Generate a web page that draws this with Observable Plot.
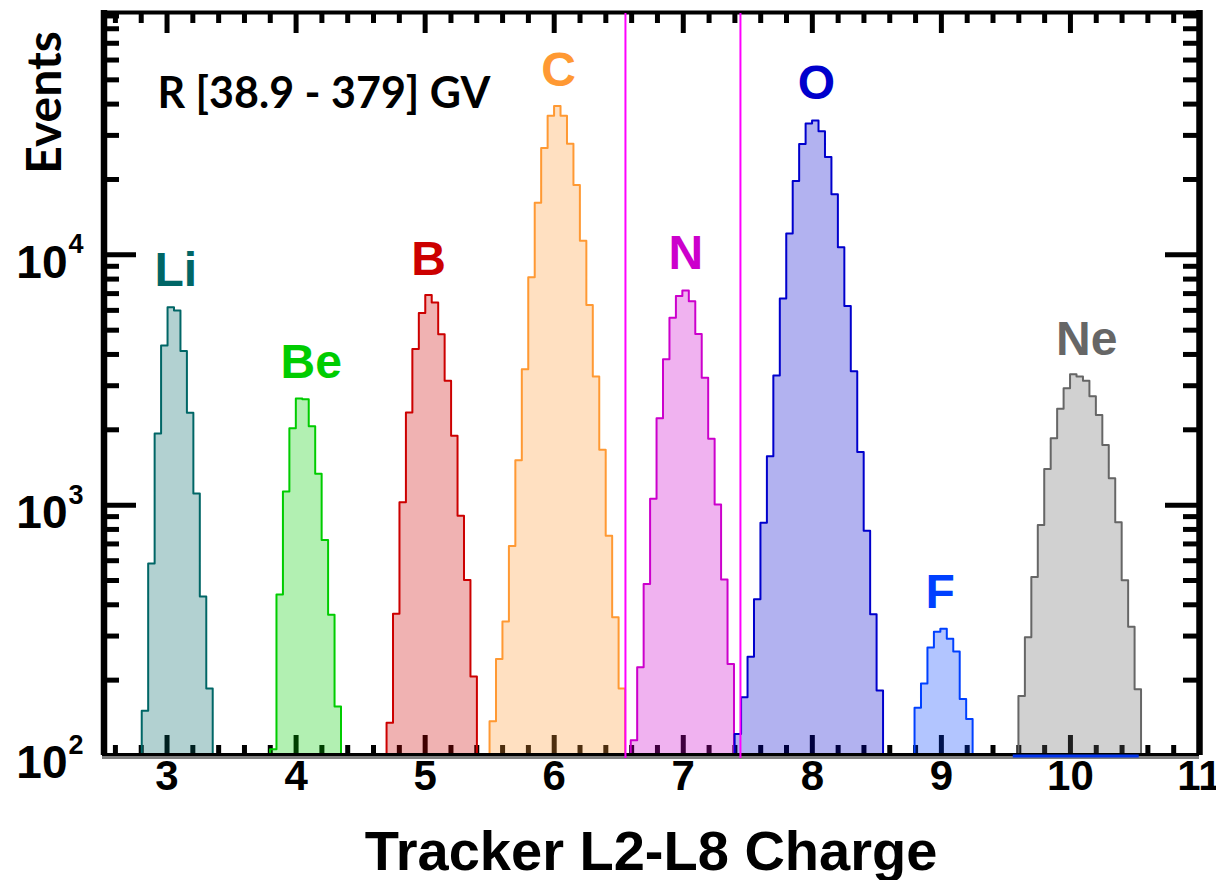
<!DOCTYPE html>
<html>
<head>
<meta charset="utf-8">
<script src="https://cdn.jsdelivr.net/npm/d3@7"></script>
<script src="https://cdn.jsdelivr.net/npm/@observablehq/plot@0.6"></script>
<style>
  body { margin: 0; background: #fff; }
</style>
</head>
<body>
<div id="chart"></div>
<script>
// ---------- data ----------
const elements = ["Li", "Be", "B", "C", "N", "O", "F", "Ne"];
const binWidth = 0.05;
const binStart = [2.804, 3.798, 4.701, 5.499, 6.593, 7.398, 8.792, 9.597];

const liCounts = [151, 585, 1935, 4340, 6180, 5990, 4130, 2340, 1113, 432, 185];
const beCounts = [106, 440, 1135, 2028, 2667, 2650, 2065, 1334, 726, 365, 157];
const bCounts  = [135, 368, 1026, 2344, 4207, 5850, 6918, 6450, 4820, 3140, 1892, 908, 502, 207];
const cCounts  = [137, 243, 343, 687, 1510, 3490, 8130, 16140, 26700, 35900, 39300, 35900, 27800, 19000, 11380, 6310, 3265, 1664, 754, 357, 185];
const nCounts  = [115, 225, 484, 1061, 2222, 3830, 5610, 6850, 7200, 6530, 4830, 3228, 1844, 1006, 505, 232];
const oCounts  = [122, 171, 248, 421, 851, 1567, 3297, 6685, 12160, 19720, 27740, 33500, 34420, 31190, 24600, 17460, 10720, 6250, 3430, 1629, 791, 367, 182];
const fCounts  = [155, 194, 270, 312, 321, 293, 260, 168, 140];
const neCounts = [173, 297, 516, 834, 1395, 1851, 2425, 2933, 3331, 3265, 3141, 2723, 2290, 1738, 1282, 854, 501, 327, 184];
const counts = [liCounts, beCounts, bCounts, cCounts, nCounts, oCounts, fCounts, neCounts];

// label anchor points (data units: charge, events)
const labelX = [3.068, 4.117, 5.026, 6.033, 7.020, 8.031, 8.991, 10.126];
const labelY = [7520, 3228, 8320, 47300, 8790, 41980, 390, 3990];

const cutLines = [6.552, 7.443];       // selection cuts
const fTail = [9.557, 10.533];         // sub-range drawn along the baseline
const rigidityText = "R [38.9 - 379] GV";

const xDomain = [2.5, 11];
const yDomain = [100, 92900];
const xMajor = [3, 4, 5, 6, 7, 8, 9, 10, 11];
const yMajor = [100, 1000, 10000];
const yExponent = ["2", "3", "4"];

// ---------- styles ----------
const colors = ["#006666", "#00cc00", "#cc0000", "#ff9933", "#cc00cc", "#0000cc", "#0040ff", "#666666"];
const W = 1216, H = 880, mL = 102, mR = 17, mT = 12, mB = 125;
const frameW = W - mL - mR, frameH = H - mT - mB;
const sans = "'Liberation Sans', Arial, sans-serif";
const humanist = "Lato, 'Open Sans', sans-serif";

// ---------- derived tables ----------
const base = yDomain[0];
const outline = elements.flatMap((el, k) => {
  const cs = counts[k];
  const pts = [{el, x: binStart[k], y: base}];
  cs.forEach((c, i) => {
    pts.push({el, x: binStart[k] + i * binWidth, y: c});
    pts.push({el, x: binStart[k] + (i + 1) * binWidth, y: c});
  });
  pts.push({el, x: binStart[k] + cs.length * binWidth, y: base});
  return pts;
});

const xMinor = d3.range(13, 55).map(i => i / 5).filter(v => Math.abs(v - Math.round(v)) > 1e-9);
const yMinor = [100, 1000, 10000].flatMap(d => d3.range(2, 10).map(m => m * d)).filter(v => v < yDomain[1]);

const labels = elements.map((el, i) => ({el, x: labelX[i], y: labelY[i]}));

const chart = Plot.plot({
  width: W, height: H,
  marginLeft: mL, marginRight: mR, marginTop: mT, marginBottom: mB,
  x: {domain: xDomain, axis: null},
  y: {type: "log", domain: yDomain, axis: null},
  color: {domain: elements, range: colors},
  style: {fontFamily: sans, background: "white", overflow: "visible"},
  marks: [
    // ticks (drawn first so the translucent fills tint them)
    Plot.tickX(xMajor, {x: d => d, insetTop: frameH - 20, stroke: "black", strokeWidth: 5}),
    Plot.tickX(xMinor, {x: d => d, insetTop: frameH - 10, stroke: "black", strokeWidth: 5}),
    Plot.tickX(xMajor, {x: d => d, insetBottom: frameH - 21, stroke: "black", strokeWidth: 5}),
    Plot.tickX(xMinor, {x: d => d, insetBottom: frameH - 11, stroke: "black", strokeWidth: 5}),
    Plot.tickY(yMajor, {y: d => d, insetRight: frameW - 34, stroke: "black", strokeWidth: 5}),
    Plot.tickY(yMinor, {y: d => d, insetRight: frameW - 17, stroke: "black", strokeWidth: 5}),
    Plot.tickY(yMajor, {y: d => d, insetLeft: frameW - 34, stroke: "black", strokeWidth: 5}),
    Plot.tickY(yMinor, {y: d => d, insetLeft: frameW - 16, stroke: "black", strokeWidth: 5}),

    // histograms
    Plot.areaY(outline, {x: "x", y1: base, y2: "y", z: "el", fill: "el", fillOpacity: 0.3}),
    Plot.line(outline, {x: "x", y: "y", z: "el", stroke: "el", strokeWidth: 2}),

    // frame
    Plot.ruleY([base], {stroke: "black", strokeWidth: 3, dy: -1}),
    Plot.ruleY([base], {stroke: "#7f7f7f", strokeWidth: 3, dy: 2}),
    Plot.ruleY([yDomain[1]], {stroke: "black", strokeWidth: 4}),
    Plot.ruleX([xDomain[0]], {stroke: "black", strokeWidth: 6.5, dx: 1.5, insetTop: -2}),
    Plot.ruleX([xDomain[1]], {stroke: "black", strokeWidth: 6.5, insetTop: -2}),

    // cuts and baseline tail
    Plot.ruleX(cutLines, {stroke: "#ff00ff", strokeWidth: 2, insetBottom: -3, insetTop: 1}),
    Plot.ruleY([base], {x1: fTail[0], x2: fTail[1], stroke: "#0033ee", strokeWidth: 3, dy: 0.5}),

    // element labels
    Plot.text(labels, {x: "x", y: "y", text: "el", fill: "el", fontSize: 48, fontWeight: "bold",
      textAnchor: "middle", lineAnchor: "bottom"}),

    // rigidity annotation
    Plot.text([rigidityText], {frameAnchor: "top-left", dx: 55, dy: 95, textAnchor: "start",
      lineAnchor: "bottom", fontSize: 43, fontWeight: "bold", fontFamily: humanist, fill: "black"}),

    // y tick labels
    Plot.text(yMajor, {y: d => d, frameAnchor: "left", text: () => "10", textAnchor: "end",
      dx: -35, dy: 8, fontSize: 46, fontWeight: "bold", fill: "black"}),
    Plot.text(yMajor, {y: d => d, frameAnchor: "left", text: (d, i) => yExponent[i], textAnchor: "start",
      dx: -34, dy: -10, fontSize: 27, fontWeight: "bold", fill: "black"}),

    // x tick labels
    Plot.text(xMajor, {x: d => d, frameAnchor: "bottom", text: d => String(d), dy: 34,
      fontSize: 42, fontWeight: "bold", fill: "black"}),

    // axis titles
    Plot.text(["Tracker L2-L8 Charge"], {frameAnchor: "bottom", dy: 114, lineAnchor: "bottom",
      fontSize: 56, fontWeight: "bold", fill: "black"}),
    Plot.text(["Events"], {frameAnchor: "top-left", dx: -42, dy: 90, rotate: -90, textAnchor: "middle",
      lineAnchor: "bottom", fontSize: 48, fontWeight: "bold", fontFamily: humanist, fill: "black"})
  ]
});

document.getElementById("chart").appendChild(chart);
</script>
</body>
</html>
